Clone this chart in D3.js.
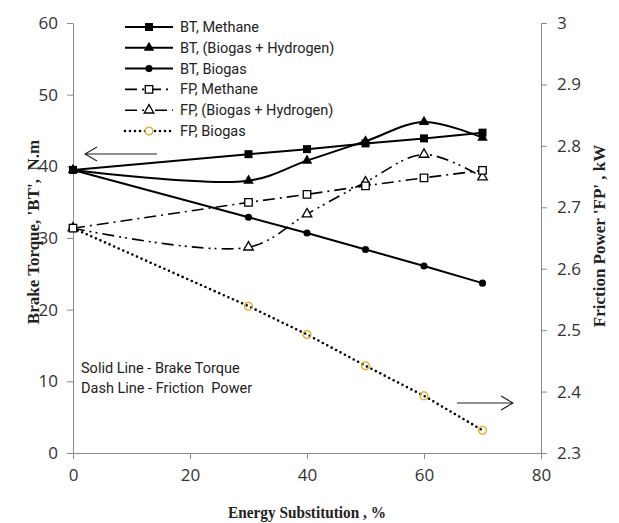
<!DOCTYPE html>
<html>
<head>
<meta charset="utf-8">
<script src="https://cdn.jsdelivr.net/npm/d3@7"></script>
<style>
  body { margin: 0; background: #fff; }
  svg { display: block; }
  .tick text { font-family: "Open Sans", sans-serif; font-size: 17px; fill: #333; }
  .axis path, .axis line { stroke: #8a8a8a; }
  .title { font-family: "Liberation Serif", serif; font-weight: bold; font-size: 17px; fill: #222; white-space: pre; }
  .note, .leg { font-family: Roboto, sans-serif; font-size: 14.5px; fill: #222; white-space: pre; }
</style>
</head>
<body>
<svg id="chart" width="619" height="523"></svg>
<script>
// energy substitution, %
const substitution = [0, 30, 40, 50, 60, 70];

// brake torque, N.m (left axis)
const btMethane = [39.5, 41.7, 42.4, 43.2, 43.9, 44.7];
const btBiogasH2 = [39.5, 38.0, 40.8, 43.5, 46.2, 44.0];
const btBiogas = [39.5, 32.9, 30.7, 28.4, 26.1, 23.7];

// friction power, kW (right axis)
const fpMethane = [2.666, 2.708, 2.721, 2.735, 2.748, 2.760];
const fpBiogasH2 = [2.666, 2.635, 2.689, 2.741, 2.786, 2.749];
const fpBiogas = [2.666, 2.539, 2.493, 2.442, 2.393, 2.337];

const xTicks = [0, 20, 40, 60, 80];
const leftTicks = [0, 10, 20, 30, 40, 50, 60];
const rightTicks = [2.3, 2.4, 2.5, 2.6, 2.7, 2.8, 2.9, 3];

const svg = d3.select("#chart");
const plotLeft = 73, plotRight = 541, plotTop = 23, plotBottom = 453;

const x = d3.scaleLinear().domain([0, 80]).range([plotLeft, plotRight]);
const yL = d3.scaleLinear().domain([0, 60]).range([plotBottom, plotTop]);
const yR = d3.scaleLinear().domain([2.3, 3]).range([plotBottom, plotTop]);

// axes
svg.append("g").attr("class", "axis")
    .attr("transform", "translate(0," + plotBottom + ")")
    .call(d3.axisBottom(x).tickValues(xTicks).tickSize(6).tickSizeOuter(0).tickPadding(10));
svg.append("g").attr("class", "axis")
    .attr("transform", "translate(" + plotLeft + ",0)")
    .call(d3.axisLeft(yL).tickValues(leftTicks).tickSize(6).tickSizeOuter(0).tickPadding(9));
svg.append("g").attr("class", "axis")
    .attr("transform", "translate(" + plotRight + ",0)")
    .call(d3.axisRight(yR).tickValues(rightTicks).tickFormat(d3.format("")).tickSize(6).tickSizeOuter(0).tickPadding(10));

// axis titles
svg.append("text").attr("class", "title")
    .attr("transform", "translate(39,232) rotate(-90)")
    .attr("text-anchor", "middle")
    .text("Brake Torque, 'BT',  N.m");
svg.append("text").attr("class", "title")
    .attr("transform", "translate(605,236) rotate(-90)")
    .attr("text-anchor", "middle")
    .text("Friction Power 'FP' , kW");
svg.append("text").attr("class", "title")
    .attr("x", 307).attr("y", 518)
    .attr("text-anchor", "middle")
    .attr("textLength", 158)
    .attr("lengthAdjust", "spacingAndGlyphs")
    .text("Energy Substitution , %");

const yellow = "#dcaa28";

const series = [
    {name: "BT, Methane", vals: btMethane, y: yL, dash: null, width: 2, curve: d3.curveLinear, marker: "square", fill: "#000", stroke: "#000"},
    {name: "BT, (Biogas + Hydrogen)", vals: btBiogasH2, y: yL, dash: null, width: 2, curve: d3.curveCatmullRom.alpha(0.5), marker: "triangle", fill: "#000", stroke: "#000"},
    {name: "BT, Biogas", vals: btBiogas, y: yL, dash: null, width: 2, curve: d3.curveLinear, marker: "circle", fill: "#000", stroke: "#000"},
    {name: "FP, Methane", vals: fpMethane, y: yR, dash: "12,5,2,5", width: 1.6, curve: d3.curveLinear, marker: "square", fill: "#fff", stroke: "#000"},
    {name: "FP, (Biogas + Hydrogen)", vals: fpBiogasH2, y: yR, dash: "12,5,2,4,2,5", width: 1.6, curve: d3.curveCatmullRom.alpha(0.5), marker: "triangle", fill: "#fff", stroke: "#000"},
    {name: "FP, Biogas", vals: fpBiogas, y: yR, dash: "0,5", width: 2.6, curve: d3.curveLinear, marker: "circle", fill: "none", stroke: yellow, cap: "round"}
];

function markerPath(type, filled) {
    if (type === "square") return d3.symbol(d3.symbolSquare, filled ? 64 : 56)();
    if (type === "triangle") return d3.symbol(d3.symbolTriangle, filled ? 48 : 40)();
    return d3.symbol(d3.symbolCircle, filled ? 40 : 48)();
}

const lines = svg.append("g").attr("id", "linesG");
const marks = svg.append("g").attr("id", "marksG");

series.slice().reverse().forEach(function (s) {
    const data = substitution.map(function (d, i) { return [d, s.vals[i]]; });
    const line = d3.line()
        .x(function (d) { return x(d[0]); })
        .y(function (d) { return s.y(d[1]); })
        .curve(s.curve);
    lines.append("path")
        .attr("d", line(data))
        .attr("fill", "none")
        .attr("stroke", "#000")
        .attr("stroke-width", s.width)
        .attr("stroke-linecap", s.cap || "butt")
        .attr("stroke-dasharray", s.dash);
    marks.selectAll(null)
        .data(data)
        .enter()
        .append("path")
        .attr("transform", function (d) { return "translate(" + x(d[0]) + "," + s.y(d[1]) + ")"; })
        .attr("d", markerPath(s.marker, s.fill === "#000"))
        .attr("fill", s.fill)
        .attr("stroke", s.stroke)
        .attr("stroke-width", s.fill === "#000" ? 0 : 1.3);
});

// legend
const legend = svg.append("g").attr("id", "legendG");
series.forEach(function (s, i) {
    const ly = 27 + i * 20.8;
    legend.append("line")
        .attr("x1", 125).attr("x2", 173)
        .attr("y1", ly).attr("y2", ly)
        .attr("stroke", "#000")
        .attr("stroke-width", s.width)
        .attr("stroke-linecap", s.cap || "butt")
        .attr("stroke-dasharray", s.dash);
    legend.append("path")
        .attr("transform", "translate(149," + ly + ")")
        .attr("d", markerPath(s.marker, s.fill === "#000"))
        .attr("fill", s.fill === "none" ? "#fff" : s.fill)
        .attr("stroke", s.stroke)
        .attr("stroke-width", s.fill === "#000" ? 0 : 1.3);
    legend.append("text").attr("class", "leg")
        .attr("x", 180).attr("y", ly + 5)
        .text(s.name);
});

// arrows pointing at the axes
function arrow(x1, x2, yy) {
    const dir = x2 > x1 ? -1 : 1;
    svg.append("path")
        .attr("d", "M" + x1 + "," + yy + "H" + x2 +
            "M" + (x2 + dir * 12) + "," + (yy - 7) + "L" + x2 + "," + yy + "L" + (x2 + dir * 12) + "," + (yy + 7))
        .attr("fill", "none")
        .attr("stroke", "#222")
        .attr("stroke-width", 1.1);
}
arrow(157, 85, 154);
arrow(457, 513, 403);

svg.append("text").attr("class", "note").attr("x", 81).attr("y", 373).text("Solid Line - Brake Torque");
svg.append("text").attr("class", "note").attr("x", 81).attr("y", 393).text("Dash Line - Friction  Power");
</script>
</body>
</html>
